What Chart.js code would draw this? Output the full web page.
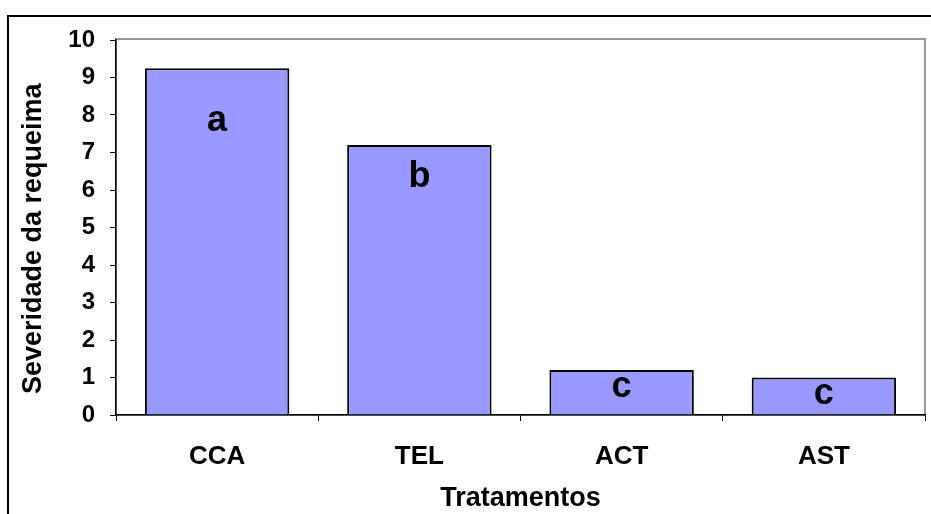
<!DOCTYPE html>
<html>
<head>
<meta charset="utf-8">
<script src="https://cdn.jsdelivr.net/npm/chart.js@4"></script>
<style>
  html, body { margin: 0; padding: 0; background: #ffffff; }
  #wrap { width: 931px; height: 514px; position: relative; }
</style>
</head>
<body>
<div id="wrap"><canvas id="c" width="931" height="514"></canvas></div>
<script>
// ---- data ----
const categories = ['CCA', 'TEL', 'ACT', 'AST'];
const severity = [9.25, 7.2, 1.2, 1.0];
const letters = ['a', 'b', 'c', 'c'];
const letterLevels = [7.85, 6.35, 0.75, 0.56];
const yTicks = [0, 1, 2, 3, 4, 5, 6, 7, 8, 9, 10];
const xTitle = 'Tratamentos';
const yTitle = 'Severidade da requeima';

const FONT = "'Liberation Sans', Arial, Helvetica, sans-serif";

const framePlugin = {
  id: 'frame',
  beforeDraw(chart) {
    const ctx = chart.ctx;
    const a = chart.chartArea;
    ctx.save();
    ctx.strokeStyle = '#000000';
    ctx.lineWidth = 2;
    ctx.strokeRect(8, 16, 1000, 1000);
    ctx.strokeStyle = '#999999';
    ctx.lineWidth = 2;
    ctx.strokeRect(a.left, a.top - 1, a.right - a.left, a.bottom - a.top + 1);
    ctx.restore();
  }
};

const lettersPlugin = {
  id: 'letters',
  afterDatasetsDraw(chart) {
    const ctx = chart.ctx;
    const meta = chart.getDatasetMeta(0);
    const yScale = chart.scales.y;
    ctx.save();
    ctx.fillStyle = '#000000';
    ctx.font = 'bold 36px ' + FONT;
    ctx.textAlign = 'center';
    ctx.textBaseline = 'middle';
    meta.data.forEach((bar, i) => {
      ctx.fillText(letters[i], bar.x, yScale.getPixelForValue(letterLevels[i]));
    });
    ctx.restore();
  }
};

// the reference centres the vertical title slightly below the plot centre
const yTitleText = yTitle + '   ';

new Chart(document.getElementById('c'), {
  type: 'bar',
  data: {
    labels: categories,
    datasets: [{
      data: severity,
      backgroundColor: '#9999FF',
      borderColor: '#000000',
      borderWidth: 2,
      borderSkipped: 'bottom',
      categoryPercentage: 1.0,
      barPercentage: 0.714
    }]
  },
  options: {
    responsive: false,
    animation: false,
    layout: { padding: { top: 40, right: 6, left: 0, bottom: 0 } },
    plugins: {
      legend: { display: false },
      tooltip: { enabled: false }
    },
    scales: {
      x: {
        afterFit(scale) { scale.height = 99; },
        grid: { display: true, drawOnChartArea: false, drawTicks: true, tickLength: 6, color: '#000000', lineWidth: 1, offset: true },
        border: { display: true, color: '#000000', width: 1.5 },
        ticks: { color: '#000000', font: { family: FONT, size: 26, weight: 'bold' }, padding: 20 },
        title: { display: true, text: xTitle, color: '#000000', font: { family: FONT, size: 27, weight: 'bold' }, padding: { top: 0, bottom: -1 } }
      },
      y: {
        min: 0,
        max: 10,
        afterFit(scale) { scale.width = 116; },
        afterBuildTicks(scale) { scale.ticks = yTicks.map(v => ({ value: v })); },
        grid: { display: true, drawOnChartArea: false, drawTicks: true, tickLength: 6, color: '#000000', lineWidth: 1 },
        border: { display: true, color: '#000000', width: 1.5 },
        ticks: { color: '#000000', font: { family: FONT, size: 24, weight: 'bold' }, padding: 15 },
        title: { display: true, text: yTitleText, color: '#000000', font: { family: FONT, size: 27, weight: 'bold' }, padding: { top: 17, bottom: 0 } }
      }
    }
  },
  plugins: [framePlugin, lettersPlugin]
});
</script>
</body>
</html>
